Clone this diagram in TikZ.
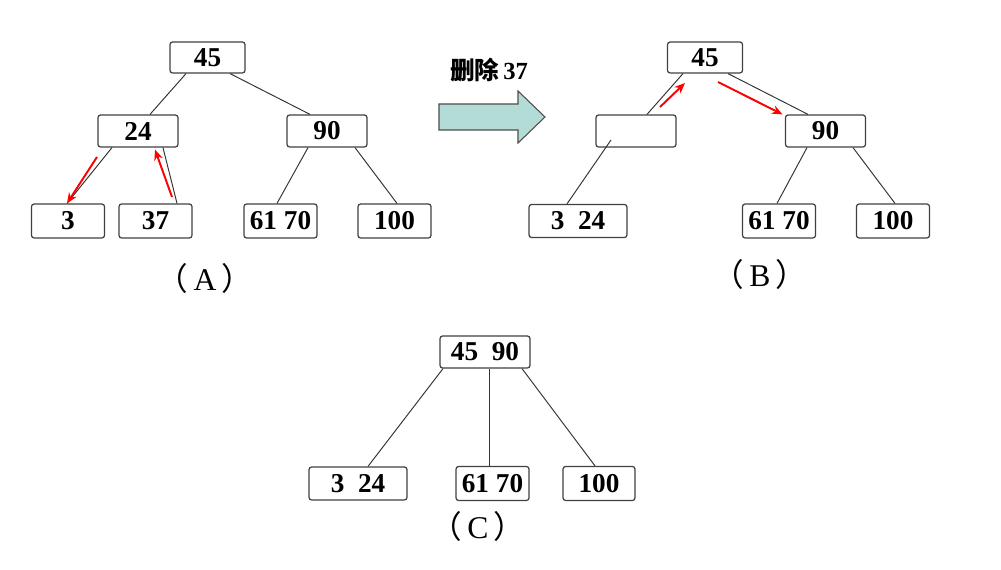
\documentclass[tikz,border=0pt]{standalone}
\usepackage{fontspec}
\setmainfont{Liberation Serif}
\newfontfamily\cjk{Noto Sans CJK SC}
\usetikzlibrary{arrows.meta,calc}
\definecolor{arrowfill}{RGB}{180,220,215}

\begin{document}
\begin{tikzpicture}[x=0.02cm,y=-0.02cm,
  box/.style={draw=black!75,line width=0.7pt,rounded corners=1.5pt,inner sep=0pt,
    minimum width=1.6cm,minimum height=0.64cm,font=\bfseries\fontsize{15.5}{17}\selectfont},
  leaf/.style={box,minimum width=1.46cm,minimum height=0.68cm},
  wide/.style={box,minimum width=1.96cm,minimum height=0.66cm},
  edge/.style={black!80,line width=0.55pt},
  redarrow/.style={red,line width=1.1pt,-{Stealth[length=6pt,width=5pt]}},
  caption/.style={font=\fontsize{18}{20}\selectfont}]
\useasboundingbox (0,0) rectangle (1001,570);
% (A)
\node [box,minimum width=1.5cm,minimum height=0.62cm] (a45) at (207.5,57.5) {45};
\node [box] (a24) at (138,131) {24};
\node [box] (a90) at (327,131) {90};
\node [leaf] (a3) at (68,221) {3};
\node [leaf] (a37) at (155.5,221) {37};
\node [leaf] (a6170) at (280.5,221) {61 70};
\node [leaf] (a100) at (394.5,221) {100};
\node [caption] (capA) at (205,278) {{\cjk （}\,A\,{\cjk ）}};
\draw [edge] ($(a45.south)+(-21.5,0)$) -- ($(a24.north)+(12,0)$);
\draw [edge] ($(a45.south)+(22.5,0)$) -- ($(a90.north)+(-17,0)$);
\draw [edge] ($(a24.south)+(-26,0)$) -- ($(a3.north)+(-1,0)$);
\draw [edge] ($(a24.south)+(25,0)$) -- ($(a37.north)+(21.5,0)$);
\draw [edge] ($(a90.south)+(-19,0)$) -- ($(a6170.north)+(-3.5,0)$);
\draw [edge] ($(a90.south)+(28,0)$) -- ($(a100.north)+(2.5,0)$);
\coordinate (ra1) at (97,157);
\coordinate (ra2) at (172,197);
\draw [redarrow] (ra1) -- ($(a3.north)+(-1,0)$);
\draw [redarrow] (ra2) -- ($(a24.south)+(17,2)$);
% big arrow
\node [font=\cjk\bfseries\fontsize{14}{16}\selectfont] (del) at (489,70) {删除\,\textrm{\bfseries 37}};
\draw [draw=black!70,line width=0.6pt,fill=arrowfill]
  (439,104) -- (518,104) -- (518,91) -- (545,117) -- (518,143) -- (518,130) -- (439,130) -- cycle;
% (B)
\node [box,minimum width=1.5cm,minimum height=0.62cm] (b45) at (705,57.5) {45};
\node [box] (bmid) at (636,131) {};
\node [box] (b90) at (825.5,131) {90};
\node [wide] (b324) at (578,221) {3\ \ 24};
\node [leaf] (b6170) at (779,221) {61 70};
\node [leaf] (b100) at (893,221) {100};
\node [caption] (capB) at (760,274) {{\cjk （}\,B\,{\cjk ）}};
\draw [edge] ($(b45.south)+(-22,0)$) -- ($(bmid.north)+(11,0)$);
\draw [edge] ($(b45.south)+(23,0)$) -- ($(b90.north)+(-17.5,0)$);
\draw [edge] ($(bmid.center)+(-25,9)$) -- ($(b324.north)+(-11,0)$);
\draw [edge] ($(b90.south)+(-18.5,0)$) -- ($(b6170.north)+(-2,0)$);
\draw [edge] ($(b90.south)+(27.5,0)$) -- ($(b100.north)+(2,0)$);
\coordinate (rb1) at (660,107);
\coordinate (rb2) at (718,82);
\draw [redarrow] (rb1) -- (685,83);
\draw [redarrow] (rb2) -- ($(b90.north)+(-43,0)$);
% (C)
\node [box,minimum width=1.8cm] (c4590) at (485,352) {45\ \ 90};
\node [wide] (c324) at (358,483.5) {3\ \ 24};
\node [leaf] (c6170) at (492.5,483.5) {61 70};
\node [leaf,minimum width=1.44cm] (c100) at (599,483.5) {100};
\node [caption] (capC) at (478,526) {{\cjk （}\,C\,{\cjk ）}};
\draw [edge] ($(c4590.south)+(-42,0)$) -- ($(c324.north)+(10,0)$);
\draw [edge] ($(c4590.south)+(4,0)$) -- ($(c6170.north)+(-3.5,0)$);
\draw [edge] ($(c4590.south)+(37,0)$) -- ($(c100.north)+(-4,0)$);
\end{tikzpicture}
\end{document}
